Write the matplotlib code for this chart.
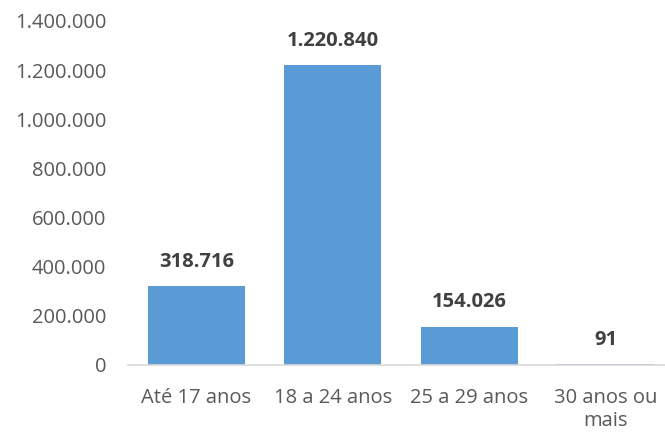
import matplotlib
matplotlib.use('Agg')
import matplotlib.pyplot as plt

categorias = ['Até 17 anos', '18 a 24 anos', '25 a 29 anos', '30 anos ou\nmais']
valores = [318716, 1220840, 154026, 91]
rotulos = ['318.716', '1.220.840', '154.026', '91']
yticks = [0, 200000, 400000, 600000, 800000, 1000000, 1200000, 1400000]


def fmt(v):
    return '{:,}'.format(v).replace(',', '.')


plt.rcParams['font.family'] = ['Open Sans', 'DejaVu Sans']

fig = plt.figure(figsize=(6.65, 4.32), dpi=100)
# eixo: x de 128 px ate a borda, y de 364 px (zero) a 21 px (1.400.000)
ax = fig.add_axes([128 / 665, 67.5 / 432, 537 / 665, 343.5 / 432])

x = list(range(len(categorias)))
ax.bar(x, valores, width=0.71, color='#5B9BD5')

# rotulos em negrito acima das barras
for xi, v, r in zip(x, valores, rotulos):
    ax.annotate(r, (xi, v), xytext=(0, 14), textcoords='offset points',
                ha='center', va='baseline', fontsize=14.5,
                fontweight='bold', color='#404040')

ax.set_xlim(-0.5, 3.434)
ax.set_ylim(0, 1400000)
ax.set_yticks(yticks)
ax.set_yticklabels([fmt(t) for t in yticks])
ax.set_xticks(x)
ax.set_xticklabels(categorias, linespacing=1.2)

ax.tick_params(axis='y', length=0, pad=15.5, labelsize=14.5, labelcolor='#595959')
ax.tick_params(axis='x', length=0, pad=17, labelsize=14.5, labelcolor='#595959')

for s in ['top', 'right', 'left']:
    ax.spines[s].set_visible(False)
ax.spines['bottom'].set_color('#D9D9D9')
ax.spines['bottom'].set_linewidth(1.2)

fig.savefig('out.png', dpi=100)
